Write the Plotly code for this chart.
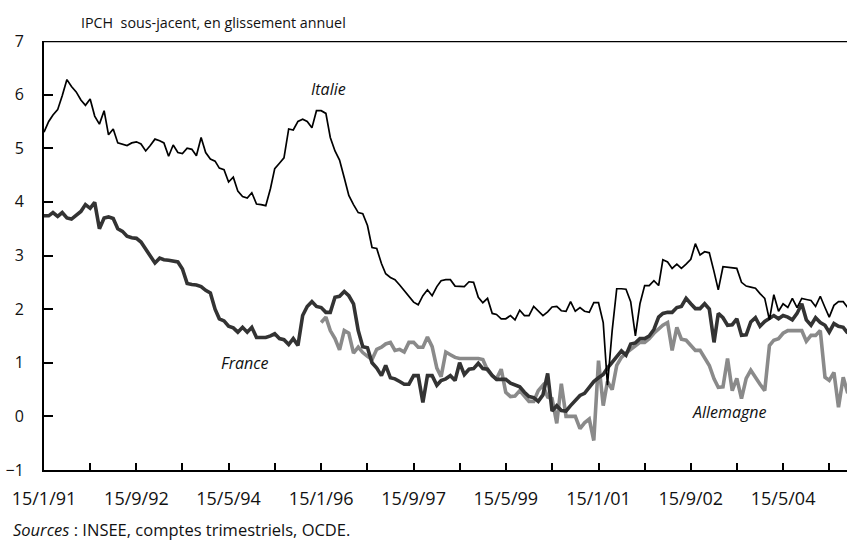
import plotly.graph_objects as go

# Monthly observations, from 15/1/1991
start_year, start_month = 1991, 1

italie = [5.3, 5.5, 5.62, 5.72, 5.98, 6.28, 6.15, 6.05, 5.9, 5.8,
          5.92, 5.6, 5.45, 5.7, 5.25, 5.36, 5.1, 5.07, 5.05, 5.1,
          5.12, 5.08, 4.95, 5.05, 5.17, 5.14, 5.1, 4.85, 5.06, 4.92,
          4.9, 5.0, 4.98, 4.86, 5.2, 4.92, 4.8, 4.76, 4.63, 4.6,
          4.37, 4.46, 4.2, 4.1, 4.07, 4.17, 3.96, 3.95, 3.93, 4.25,
          4.62, 4.72, 4.82, 5.36, 5.34, 5.5, 5.54, 5.5, 5.38, 5.7,
          5.7, 5.65, 5.2, 4.95, 4.78, 4.45, 4.12, 3.95, 3.8, 3.78,
          3.56, 3.15, 3.13, 2.85, 2.66, 2.59, 2.55, 2.45, 2.35, 2.25,
          2.13, 2.08, 2.25, 2.36, 2.25, 2.42, 2.53, 2.55, 2.55, 2.43,
          2.42, 2.42, 2.51, 2.5, 2.22, 2.12, 2.2, 1.92, 1.9, 1.82,
          1.82, 1.88, 1.8, 1.98, 1.88, 1.88, 2.05, 1.97, 1.88, 1.95,
          2.04, 2.05, 1.97, 1.96, 2.14, 1.96, 2.03, 1.96, 1.94, 2.12,
          2.12, 1.75, 0.58, 1.6, 2.38, 2.38, 2.37, 2.14, 1.5, 2.1,
          2.44, 2.44, 2.53, 2.44, 2.92, 2.88, 2.76, 2.84, 2.76, 2.84,
          2.93, 3.22, 3.01, 3.07, 3.05, 2.7, 2.36, 2.79, 2.78, 2.77,
          2.76, 2.5, 2.43, 2.41, 2.39, 2.29, 2.2, 1.8, 2.27, 1.96,
          2.1, 2.03, 2.2, 2.03, 2.2, 2.18, 2.16, 2.05, 2.24, 2.03,
          1.85, 2.07, 2.14, 2.14, 2.03]

france = [3.74, 3.74, 3.8, 3.73, 3.8, 3.7, 3.68, 3.74, 3.82, 3.95,
          3.88, 3.99, 3.5, 3.7, 3.72, 3.69, 3.5, 3.45, 3.36, 3.33,
          3.32, 3.25, 3.12, 3.01, 2.86, 2.95, 2.92, 2.91, 2.9, 2.88,
          2.75, 2.48, 2.46, 2.45, 2.42, 2.35, 2.3, 2.0, 1.82, 1.78,
          1.68, 1.65, 1.57, 1.66, 1.57, 1.66, 1.47, 1.47, 1.47, 1.5,
          1.54, 1.45, 1.43, 1.34, 1.45, 1.32, 1.88, 2.05, 2.14, 2.05,
          2.03, 1.94, 1.94, 2.22, 2.24, 2.33, 2.25, 2.1, 1.6, 1.3,
          1.28, 1.0, 0.9, 0.76, 0.95, 0.72, 0.7, 0.65, 0.6, 0.6,
          0.76, 0.76, 0.26, 0.76, 0.76, 0.58, 0.67, 0.7, 0.76, 0.67,
          1.0, 0.78, 0.88, 0.89, 0.99, 0.89, 0.88, 0.76, 0.69, 0.69,
          0.69, 0.62, 0.58, 0.55, 0.45, 0.37, 0.35, 0.28, 0.4, 0.8,
          0.1, 0.2, 0.11, 0.1, 0.2, 0.3, 0.39, 0.43, 0.54, 0.65,
          0.72, 0.78, 0.9, 1.0, 1.12, 1.22, 1.14, 1.35, 1.37, 1.45,
          1.45, 1.5, 1.62, 1.85, 1.92, 1.94, 1.94, 2.03, 2.05, 2.2,
          2.1, 2.01, 2.01, 2.1, 2.0, 1.38, 1.92, 1.84, 1.7, 1.71,
          1.82, 1.51, 1.52, 1.76, 1.84, 1.68, 1.77, 1.82, 1.88, 1.82,
          1.88, 1.85, 1.8, 1.92, 2.1, 1.8, 1.7, 1.84, 1.75, 1.7,
          1.57, 1.73, 1.68, 1.66, 1.55]

# Germany starts in January 1996 (month index 60)
allemagne_start = 60
allemagne = [1.75, 1.85, 1.6, 1.45, 1.24, 1.6, 1.55, 1.18, 1.29, 1.19,
             1.12, 1.06, 1.25, 1.29, 1.35, 1.38, 1.23, 1.25, 1.2, 1.38,
             1.38, 1.29, 1.29, 1.48, 1.3, 0.9, 0.74, 1.2, 1.15, 1.1,
             1.08, 1.08, 1.08, 1.08, 1.08, 1.06, 0.86, 0.76, 0.7, 0.88,
             0.45, 0.37, 0.38, 0.48, 0.37, 0.28, 0.28, 0.48, 0.58, 0.36,
             0.33, -0.13, 0.61, 0.0, 0.0, 0.0, -0.23, -0.12, -0.05, -0.45,
             1.04, 0.2, 0.65, 0.5, 0.95, 1.1, 1.18, 1.25, 1.32, 1.38,
             1.38, 1.45, 1.55, 1.63, 1.7, 1.75, 1.23, 1.66, 1.44, 1.42,
             1.32, 1.23, 1.23, 1.1, 0.95, 0.7, 0.54, 0.55, 1.08, 0.48,
             0.71, 0.33, 0.71, 0.86, 0.72, 0.6, 0.48, 1.32, 1.42, 1.45,
             1.55, 1.6, 1.6, 1.6, 1.6, 1.4, 1.51, 1.51, 1.6, 0.73,
             0.67, 0.82, 0.17, 0.73, 0.43]

tick_every = 10      # months between tick marks
label_every = 2      # one label every two ticks
y_ticks = [-1, 0, 1, 2, 3, 4, 5, 6, 7]


def month_date(i):
    y = start_year + (start_month - 1 + i) // 12
    m = (start_month - 1 + i) % 12 + 1
    return f"{y:04d}-{m:02d}-15"


def month_label(i):
    y = start_year + (start_month - 1 + i) // 12
    m = (start_month - 1 + i) % 12 + 1
    return f"15/{m}/{y % 100:02d}"


dates = [month_date(i) for i in range(len(italie))]
dates_de = [month_date(allemagne_start + i) for i in range(len(allemagne))]

tick_idx = list(range(0, 180, tick_every))
tickvals = [month_date(i) for i in tick_idx]
ticktext = [month_label(i) if k % label_every == 0 else "" for k, i in enumerate(tick_idx)]

FONT = "Open Sans"
TXT = "#111111"

fig = go.Figure()
fig.add_trace(go.Scatter(x=dates_de, y=allemagne, mode="lines", name="Allemagne",
                         line=dict(color="#8a8a8a", width=3.6)))
fig.add_trace(go.Scatter(x=dates, y=france, mode="lines", name="France",
                         line=dict(color="#333333", width=3.6)))
fig.add_trace(go.Scatter(x=dates, y=italie, mode="lines", name="Italie",
                         line=dict(color="#000000", width=1.7)))

fig.update_layout(
    width=847, height=540,
    margin=dict(l=44, r=0, t=41, b=70),
    paper_bgcolor="white", plot_bgcolor="white",
    showlegend=False,
    font=dict(family=FONT, size=16, color=TXT),
    xaxis=dict(
        type="date",
        range=["1991-01-15", "2005-07-10"],
        tickmode="array", tickvals=tickvals, ticktext=ticktext,
        ticks="inside", ticklen=7, tickwidth=1.5, tickcolor="black",
        showline=True, linecolor="black", linewidth=2,
        showgrid=False, zeroline=False,
        tickfont=dict(family=FONT, size=18, color=TXT),
        ticklabelstandoff=11,
    ),
    yaxis=dict(
        range=[-1, 7],
        tickmode="array", tickvals=y_ticks,
        ticks="inside", ticklen=9, tickwidth=1.5, tickcolor="black",
        showline=True, linecolor="black", linewidth=2,
        showgrid=False, zeroline=False,
        tickfont=dict(family=FONT, size=16, color=TXT),
        ticklabelstandoff=15,
    ),
)

# top frame line at y = 7
fig.add_shape(type="line", xref="paper", yref="y", x0=0, x1=1, y0=7, y1=7,
              line=dict(color="black", width=2.5))

fig.add_annotation(text="IPCH  sous-jacent, en glissement annuel", xref="paper", yref="paper",
                   x=0, y=1.0, yshift=19, xshift=35, xanchor="left", yanchor="middle", align="left",
                   showarrow=False, font=dict(family=FONT, size=14.3, color=TXT))
fig.add_annotation(text="<i>Sources</i> : INSEE, comptes trimestriels, OCDE.", xref="paper", yref="paper",
                   x=0, y=0, xshift=-33, yshift=-59, xanchor="left", yanchor="middle", align="left",
                   showarrow=False, font=dict(family=FONT, size=16.5, color=TXT))

for txt, xd, yv in [("Italie", "1996-03-05", 6.1), ("France", "1994-08-30", 1.0),
                    ("Allemagne", "2003-05-27", 0.08)]:
    fig.add_annotation(text=f"<i>{txt}</i>", x=xd, y=yv, xref="x", yref="y",
                       showarrow=False, font=dict(family=FONT, size=16, color=TXT))

fig.write_html("out.html", config={"displayModeBar": False},
               post_script="document.body.style.margin='0px';")
